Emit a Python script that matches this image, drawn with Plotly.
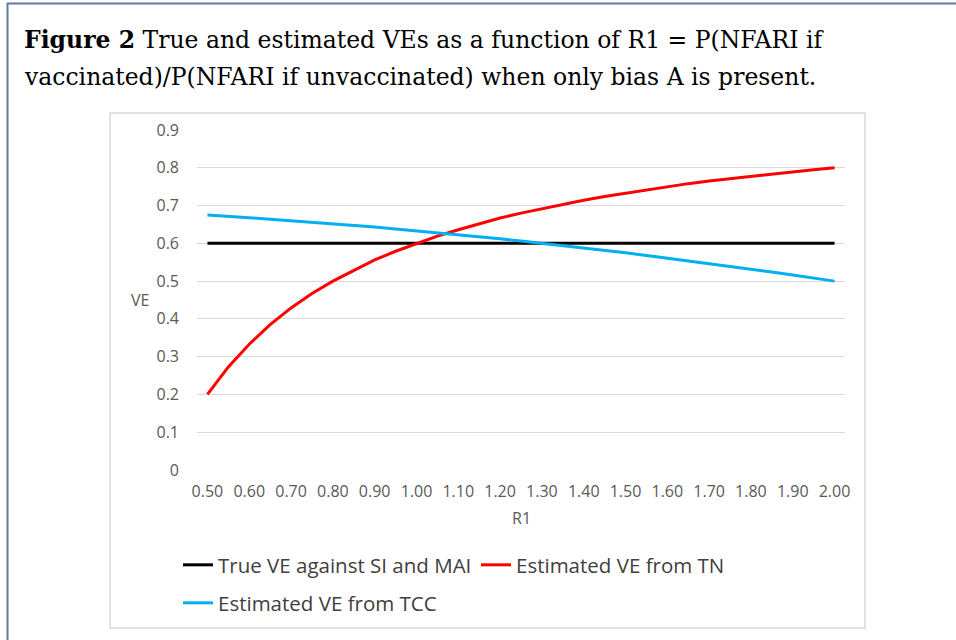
import plotly.graph_objects as go

# ---- data ----
r1 = [0.50, 0.55, 0.60, 0.65, 0.70, 0.75, 0.80, 0.85, 0.90, 0.95,
      1.00, 1.05, 1.10, 1.15, 1.20, 1.25, 1.30, 1.35, 1.40, 1.45,
      1.50, 1.55, 1.60, 1.65, 1.70, 1.75, 1.80, 1.85, 1.90, 1.95, 2.00]
true_ve = [0.6] * 31
est_tn = [0.200, 0.273, 0.333, 0.385, 0.429, 0.467, 0.500, 0.529, 0.556, 0.579,
          0.600, 0.619, 0.636, 0.652, 0.667, 0.680, 0.692, 0.704, 0.714, 0.724,
          0.733, 0.742, 0.750, 0.758, 0.765, 0.771, 0.778, 0.784, 0.789, 0.795, 0.800]
est_tcc = [0.675, 0.672, 0.668, 0.664, 0.660, 0.656, 0.652, 0.647, 0.643, 0.638,
           0.633, 0.628, 0.623, 0.617, 0.612, 0.606, 0.600, 0.594, 0.588, 0.581,
           0.575, 0.568, 0.561, 0.554, 0.547, 0.539, 0.532, 0.524, 0.516, 0.508, 0.500]

x_tickvals = [0.5, 0.6, 0.7, 0.8, 0.9, 1.0, 1.1, 1.2, 1.3, 1.4, 1.5, 1.6, 1.7, 1.8, 1.9, 2.0]
x_ticktext = ["0.50", "0.60", "0.70", "0.80", "0.90", "1.00", "1.10", "1.20", "1.30",
              "1.40", "1.50", "1.60", "1.70", "1.80", "1.90", "2.00"]
y_tickvals = [0, 0.1, 0.2, 0.3, 0.4, 0.5, 0.6, 0.7, 0.8, 0.9]
y_ticktext = ["0", "0.1", "0.2", "0.3", "0.4", "0.5", "0.6", "0.7", "0.8", "0.9"]

names = ["True VE against SI and MAI", "Estimated VE from TN", "Estimated VE from TCC"]
colors = ["#000000", "#FF0000", "#00B0F0"]
legends = ["legend", "legend", "legend2"]

caption1 = "<b>Figure 2</b> True and estimated VEs as a function of R1 = P(NFARI if"
caption2 = "vaccinated)/P(NFARI if unvaccinated) when only bias A is present."

W, H = 956, 640
L, R, T, B = 197, 111, 130, 170
PW, PH = W - L - R, H - T - B


def px_x(p):
    return (p - L) / PW


def px_y(p):
    return (H - B - p) / PH


fig = go.Figure()
for ys, name, col, lg in zip([true_ve, est_tn, est_tcc], names, colors, legends):
    fig.add_trace(go.Scatter(x=r1, y=ys, mode="lines", name=name, legend=lg,
                             line=dict(color=col, width=3)))

tick_font = dict(family="Open Sans", size=16, color="#595959")
leg_font = dict(family="Open Sans", size=20.5, color="#404040")

fig.update_layout(
    width=W, height=H,
    margin=dict(l=L, r=R, t=T, b=B),
    paper_bgcolor="white", plot_bgcolor="white",
    showlegend=True,
    legend=dict(orientation="h", x=px_x(178), xanchor="left",
                y=px_y(545), yanchor="top", font=leg_font,
                entrywidth=253, entrywidthmode="pixels",
                bgcolor="rgba(0,0,0,0)"),
    legend2=dict(orientation="h", x=px_x(178), xanchor="left",
                 y=px_y(583), yanchor="top", font=leg_font,
                 bgcolor="rgba(0,0,0,0)"),
    xaxis=dict(range=[0.475, 2.025], tickvals=x_tickvals, ticktext=x_ticktext,
               showgrid=False, zeroline=False, showline=False,
               tickfont=tick_font, ticks="", ticklabelstandoff=10),
    yaxis=dict(range=[0, 0.9], tickvals=y_tickvals, ticktext=y_ticktext,
               showgrid=True, gridcolor="#d9d9d9", gridwidth=1,
               zeroline=False, showline=False,
               tickfont=tick_font, ticks="", ticklabelstandoff=17),
)

# chart box border
fig.add_shape(type="rect", xref="paper", yref="paper",
              x0=px_x(110), x1=px_x(865), y0=px_y(628), y1=px_y(113),
              line=dict(color="#d9d9d9", width=1.5), layer="below")
# outer frame (top and left edges visible; right/bottom edges fall outside the page)
fig.add_shape(type="rect", xref="paper", yref="paper",
              x0=px_x(7.5), x1=px_x(975), y0=px_y(660), y1=px_y(3.5),
              line=dict(color="#5b7ba0", width=2), layer="below")

# axis titles
fig.add_annotation(text="VE", xref="paper", yref="paper", x=px_x(140), y=px_y(300),
                   showarrow=False, xanchor="center", yanchor="middle",
                   font=dict(family="Open Sans", size=16, color="#595959"))
fig.add_annotation(text="R1", xref="paper", yref="paper", x=px_x(521), y=px_y(518),
                   showarrow=False, xanchor="center", yanchor="middle",
                   font=dict(family="Open Sans", size=16, color="#595959"))

# caption
cap_font = dict(family="DejaVu Serif", size=23.5, color="#000000")
fig.add_annotation(text=caption1, xref="paper", yref="paper", x=px_x(22), y=px_y(40),
                   showarrow=False, xanchor="left", yanchor="middle", font=cap_font)
fig.add_annotation(text=caption2, xref="paper", yref="paper", x=px_x(22), y=px_y(77),
                   showarrow=False, xanchor="left", yanchor="middle", font=cap_font)

fig.write_html("out.html", config={"displayModeBar": False},
               post_script="document.body.style.margin='0';")
